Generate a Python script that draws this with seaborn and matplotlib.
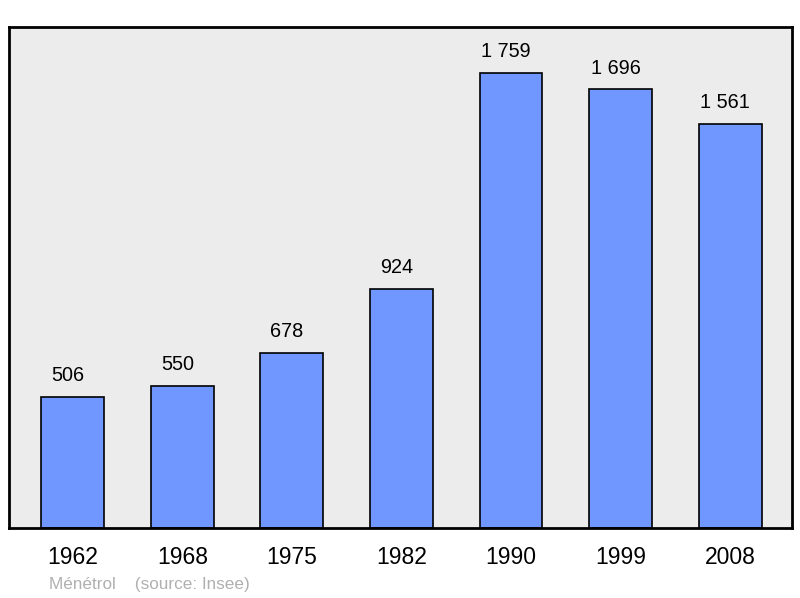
import matplotlib
matplotlib.use("Agg")
import matplotlib.pyplot as plt
import seaborn as sns
import pandas as pd

years = ["1962", "1968", "1975", "1982", "1990", "1999", "2008"]
population = [506, 550, 678, 924, 1759, 1696, 1561]
value_labels = ["506", "550", "678", "924", "1 759", "1 696", "1 561"]

sns.set_theme(style="white")
plt.rcParams['font.family'] = ['Liberation Sans', 'DejaVu Sans']

df = pd.DataFrame({"year": years, "pop": population})

fig = plt.figure(figsize=(8, 5.98), dpi=100)
ax = fig.add_axes([9/800, 1 - 528/598, 783/800, 501/598])
ax.set_facecolor("#ececec")

sns.barplot(data=df, x="year", y="pop", ax=ax, color="#7096ff", saturation=1,
            width=0.575, edgecolor="black", linewidth=1.2)

for i, (v, lab) in enumerate(zip(population, value_labels)):
    ax.annotate(lab, xy=(i, v), xytext=(-3.5, 8.5), textcoords="offset points",
                ha="center", va="bottom", fontsize=14.3, color="black")

ax.set_xlim(-0.584, 6.566)
ax.set_ylim(0, 1937)
ax.set_xlabel("")
ax.set_ylabel("")
ax.set_yticks([])
ax.tick_params(axis="x", length=0, labelsize=16.5, pad=13, colors="black")
for s in ax.spines.values():
    s.set_visible(True)
    s.set_color("black")
    s.set_linewidth(2)

fig.text(49/800, 1 - 584/598, "Ménétrol    (source: Insee)", fontsize=12.3,
         color="#b0b0b0", ha="left", va="center")

fig.savefig("out.png", dpi=100)
